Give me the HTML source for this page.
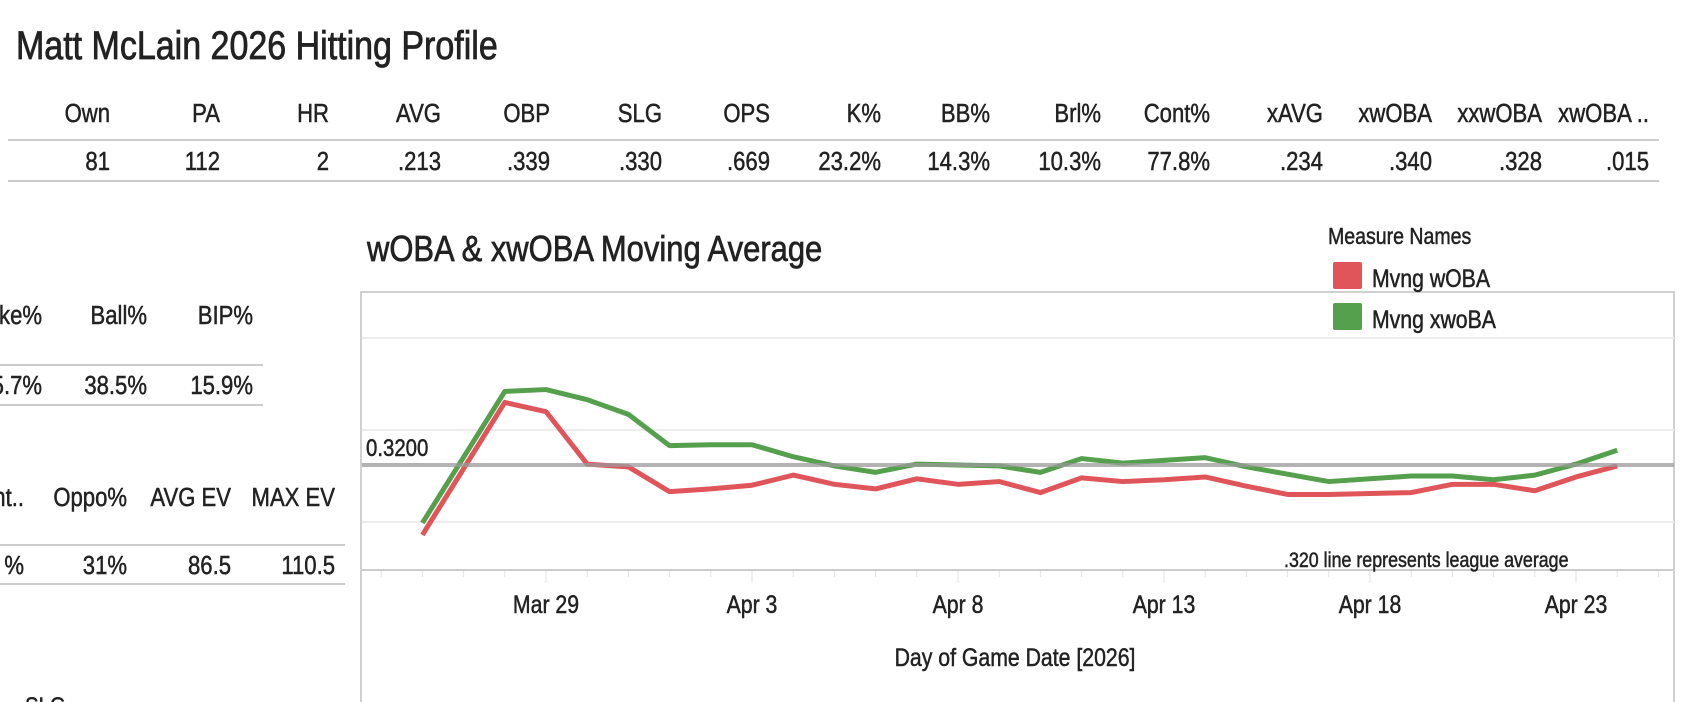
<!DOCTYPE html>
<html><head><meta charset="utf-8"><style>
body{margin:0;width:1684px;height:702px;overflow:hidden;background:#fff;font-family:"Liberation Sans Narrow","Liberation Sans",sans-serif;color:#222}
svg{position:absolute;left:0;top:0}
text{stroke:#222;stroke-width:0.5px}
</style></head><body>
<svg id="s" width="1684" height="702" font-family="'Liberation Sans Narrow','Liberation Sans',sans-serif">
<text x="16" y="59" font-size="40" fill="#222" data-sx="0.85" style="stroke-width:0.8px">Matt McLain 2026 Hitting Profile</text>
<g id="topTable"></g>
<g id="left1"></g>
<g id="left2"></g>
<text x="25" y="714" font-size="24" fill="#222">SLG</text>
<text x="367" y="261" font-size="36" fill="#222" data-sx="0.86" style="stroke-width:0.7px">wOBA &amp; xwOBA Moving Average</text>
<rect x="361" y="292" width="1313" height="420" fill="none" stroke="#d0d0d0" stroke-width="2"/>
<g id="chart"></g>
<g>
<text x="1328" y="244" font-size="23" fill="#222">Measure Names</text>
<rect x="1333" y="262" width="29" height="27" rx="2" fill="#e0555a"/>
<text x="1372" y="287" font-size="25" fill="#222">Mvng wOBA</text>
<rect x="1333" y="303" width="29" height="27" rx="2" fill="#55a04c"/>
<text x="1372" y="328" font-size="25" fill="#222">Mvng xwoBA</text>
</g>
</svg>
<script>
const topHeaders=["Own","PA","HR","AVG","OBP","SLG","OPS","K%","BB%","Brl%","Cont%","xAVG","xwOBA","xxwOBA","xwOBA .."];
const topValues=["81","112","2",".213",".339",".330",".669","23.2%","14.3%","10.3%","77.8%",".234",".340",".328",".015"];
const left1Headers=["ke%","Ball%","BIP%"];
const left1Values=["5.7%","38.5%","15.9%"];
const left2Headers=["nt..","Oppo%","AVG EV","MAX EV"];
const left2Values=["%","31%","86.5","110.5"];
const days=["Mar 26","Mar 28","Mar 29","Mar 30","Mar 31","Apr 1","Apr 2","Apr 3","Apr 4","Apr 5","Apr 6","Apr 7","Apr 8","Apr 9","Apr 10","Apr 11","Apr 12","Apr 13","Apr 14","Apr 15","Apr 16","Apr 17","Apr 18","Apr 19","Apr 20","Apr 21","Apr 22","Apr 23","Apr 24"];
const dayIndex=[-3,-1,0,1,2,3,4,5,6,7,8,9,10,11,12,13,14,15,16,17,18,19,20,21,22,23,24,25,26];
const woba=[0.244,0.388,0.378,0.321,0.318,0.291,0.294,0.298,0.309,0.299,0.294,0.305,0.299,0.302,0.290,0.306,0.302,0.304,0.307,0.297,0.288,0.288,0.289,0.290,0.299,0.299,0.292,0.307,0.319];
const xwoba=[0.257,0.400,0.402,0.391,0.375,0.341,0.342,0.342,0.329,0.319,0.312,0.321,0.320,0.319,0.312,0.327,0.322,0.325,0.328,0.318,0.310,0.302,0.305,0.308,0.308,0.304,0.309,0.321,0.336];
const tickLabels=["Mar 29","Apr 3","Apr 8","Apr 13","Apr 18","Apr 23"];
const tickIndex=[0,5,10,15,20,25];
const refValue=0.32;
const gridValues=[0.458,0.358,0.258];

const NS="http://www.w3.org/2000/svg";
function mk(tag,attrs,parent){const e=document.createElementNS(NS,tag);for(const k in attrs)e.setAttribute(k,attrs[k]);parent.appendChild(e);return e;}
const xS=d=>546+d*41.2;
const yS=v=>465-(v-0.32)*920;

const tt=document.getElementById('topTable');
const topRight=[110,220,329,441,550,662,770,881,990,1101,1210,1323,1432,1542,1649];
topHeaders.forEach((h,i)=>{
 const t=mk('text',{x:topRight[i],y:122,'font-size':26,'text-anchor':'end',fill:'#222'},tt);t.textContent=h;
 
 
 const v=mk('text',{x:topRight[i],y:170,'font-size':26,'text-anchor':'end',fill:'#222'},tt);v.textContent=topValues[i];
 
 
});
mk('line',{x1:8,x2:1659,y1:140,y2:140,stroke:'#ccc','stroke-width':2},tt);
mk('line',{x1:8,x2:1659,y1:181,y2:181,stroke:'#ccc','stroke-width':2},tt);

function sideTable(id,hs,vs,rights,hy,vy,l1,l2,xe){
 const g=document.getElementById(id);
 hs.forEach((h,i)=>{
  const t=mk('text',{x:rights[i],y:hy,'font-size':26,'text-anchor':'end',fill:'#222'},g);t.textContent=h;
  
  
  const v=mk('text',{x:rights[i],y:vy,'font-size':26,'text-anchor':'end',fill:'#222'},g);v.textContent=vs[i];
  
  
 });
 mk('line',{x1:0,x2:xe,y1:l1,y2:l1,stroke:'#ccc','stroke-width':2},g);
 mk('line',{x1:0,x2:xe,y1:l2,y2:l2,stroke:'#ccc','stroke-width':2},g);
}
sideTable('left1',left1Headers,left1Values,[42,147,253],324,394,365,405,263);
sideTable('left2',left2Headers,left2Values,[24,127,231,335],506,574,545,584,345);

const c=document.getElementById('chart');
gridValues.forEach(v=>{const l=mk('line',{x1:362,x2:1674,y1:yS(v),y2:yS(v),stroke:'#ececec','stroke-width':2},c);
 
 });
const ax=mk('line',{x1:362,x2:1674,y1:570,y2:570,stroke:'#ccc','stroke-width':2},c);


for(let d=-4;d<=27;d++){mk('line',{x1:xS(d),x2:xS(d),y1:571,y2:577,stroke:'#e4e4e4','stroke-width':1},c);}
tickIndex.forEach((d,i)=>{
 mk('line',{x1:xS(d),x2:xS(d),y1:571,y2:583,stroke:'#e0e0e0','stroke-width':1},c);
 const t=mk('text',{x:xS(d),y:613,'font-size':25,'text-anchor':'middle',fill:'#222'},c);t.textContent=tickLabels[i];
 
 
});
const xt=mk('text',{x:1015,y:666,'font-size':25,'text-anchor':'middle',fill:'#222'},c);xt.textContent='Day of Game Date [2026]';


function line(vals,color,name){
 const p=mk('polyline',{points:vals.map((v,i)=>xS(dayIndex[i])+','+yS(v)).join(' '),fill:'none',stroke:color,'stroke-width':5,'stroke-linejoin':'round'},c);
 
 
}
line(xwoba,'#55a04c','line-mvng-xwoba');
line(woba,'#e0555a','line-mvng-woba');
const ref=mk('line',{x1:362,x2:1674,y1:yS(refValue),y2:yS(refValue),stroke:'#999','stroke-width':4,'stroke-opacity':0.75},c);


const rl=mk('text',{x:366,y:456,'font-size':24,fill:'#222'},c);rl.textContent='0.3200';


const an=mk('text',{x:1284,y:567,'font-size':21,fill:'#222'},c);an.textContent='.320 line represents league average';



document.querySelectorAll('text').forEach(t=>{
 const sx=parseFloat(t.getAttribute('data-sx')||'0.85');
 const x=parseFloat(t.getAttribute('x'));
 t.setAttribute('transform','translate('+x+',0) scale('+sx+',1) translate('+(-x)+',0)');
});
</script>
</body></html>
